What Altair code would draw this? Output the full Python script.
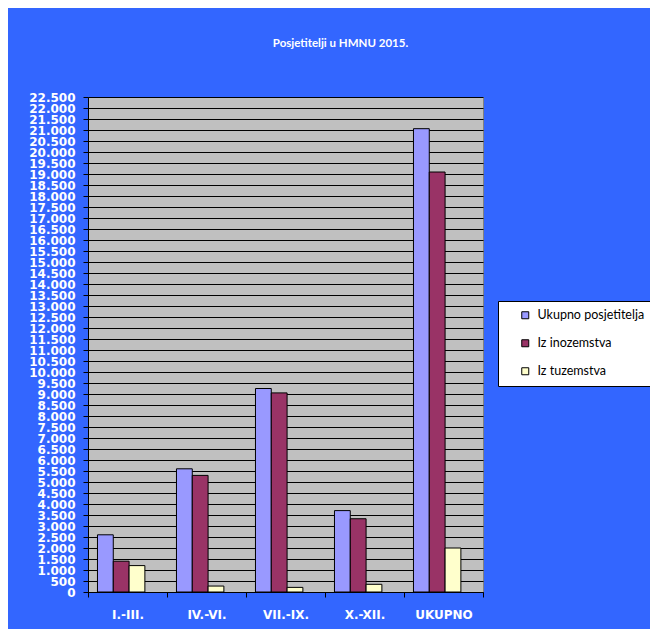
import altair as alt
import pandas as pd

categories = ["I.-III.", "IV.-VI.", "VII.-IX.", "X.-XII.", "UKUPNO"]
series_names = ["Ukupno posjetitelja", "Iz inozemstva", "Iz tuzemstva"]
ukupno = [2600, 5600, 9250, 3700, 21060]
inozemstvo = [1400, 5300, 9050, 3330, 19090]
tuzemstvo = [1200, 270, 210, 350, 2000]
colors = ["#9999FF", "#993366", "#FFFFCC"]
y_ticks = list(range(0, 22501, 500))

rows = []
for s, vals in zip(series_names, [ukupno, inozemstvo, tuzemstvo]):
    for c, v in zip(categories, vals):
        rows.append({"Razdoblje": c, "Serija": s, "Posjetitelji": v})
df = pd.DataFrame(rows)

chart = alt.Chart(df).mark_bar(stroke="black", strokeWidth=1).encode(
    x=alt.X(
        "Razdoblje:N",
        sort=categories,
        scale=alt.Scale(paddingInner=0, paddingOuter=0),
        axis=alt.Axis(
            title=None, labelAngle=0, tickBand="extent", grid=False,
            domainColor="black", tickColor="black", tickSize=5,
            labelColor="white", labelFont="DejaVu Sans", labelFontWeight="bold",
            labelFontSize=12, labelPadding=12, labelBaseline="top",
        ),
    ),
    xOffset=alt.XOffset(
        "Serija:N",
        sort=series_names,
        scale=alt.Scale(paddingInner=0, paddingOuter=1, align=0.3),
    ),
    y=alt.Y(
        "Posjetitelji:Q",
        scale=alt.Scale(domain=[0, 22500], nice=False),
        axis=alt.Axis(
            title=None, values=y_ticks, grid=True, gridColor="black", gridWidth=1.2,
            domainColor="black", tickColor="black", tickSize=5,
            labelColor="white", labelFont="DejaVu Sans", labelFontWeight="bold",
            labelFontSize=12, labelPadding=8, labelOverlap=False,
            labelExpr="replace(format(datum.value, ','), ',', '.')",
        ),
    ),
    color=alt.Color(
        "Serija:N",
        sort=series_names,
        scale=alt.Scale(domain=series_names, range=colors),
        legend=alt.Legend(
            title=None, orient="none", legendX=410, legendY=204,
            fillColor="white", strokeColor="black", padding=8,
            symbolType="square", symbolSize=49, symbolStrokeColor="black",
            symbolStrokeWidth=1, symbolOffset=13, labelOffset=6,
            labelFont="Lato", labelFontSize=12.5, labelColor="black", rowPadding=15,
        ),
    ),
).properties(
    width=395,
    height=495,
    title=alt.TitleParams(
        "Posjetitelji u HMNU 2015.", color="white", font="Lato", fontSize=11.5,
        fontWeight="bold", anchor="middle", dx=55, offset=42,
    ),
    padding={"left": 80, "top": 89, "right": 167, "bottom": 37},
    autosize="none",
    background="#3366FF",
).configure_view(
    fill="#C0C0C0", stroke="#808080", strokeWidth=1
)

chart.save("out.html", embed_options={"renderer": "svg", "actions": False})
